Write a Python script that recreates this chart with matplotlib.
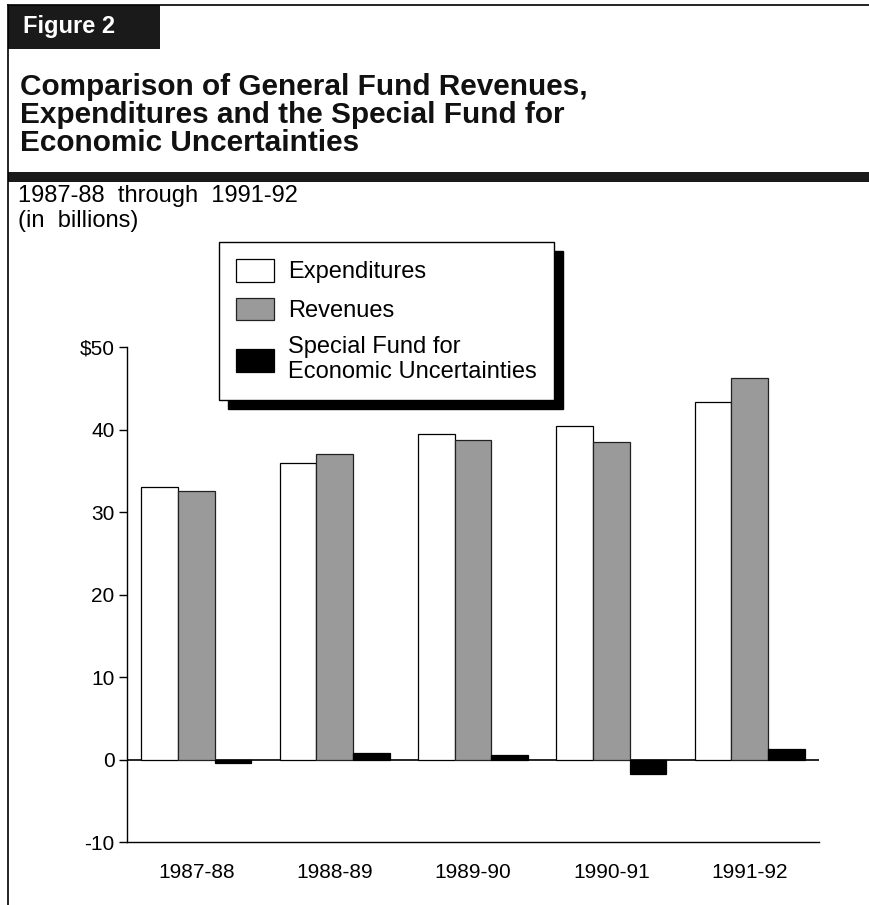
import matplotlib
matplotlib.use("Agg")
import matplotlib.pyplot as plt
from matplotlib.patches import Rectangle
from matplotlib.lines import Line2D
import numpy as np

plt.rcParams["font.family"] = ["Liberation Sans", "DejaVu Sans"]

years = ["1987-88", "1988-89", "1989-90", "1990-91", "1991-92"]
expenditures = [33.0, 35.9, 39.5, 40.4, 43.3]
revenues = [32.5, 37.0, 38.7, 38.5, 46.2]
special_fund = [-0.4, 0.8, 0.5, -1.7, 1.3]
yticks = [-10, 0, 10, 20, 30, 40, 50]
ytick_labels = ["-10", "0", "10", "20", "30", "40", "$50"]

W, H = 870, 905
fig = plt.figure(figsize=(W / 100, H / 100), dpi=100)


def fx(px):
    return px / W


def fy(py):
    return 1 - py / H


# page frame: left rule, top rule, "Figure 2" tab, heavy rule under the title
fig.add_artist(Line2D([fx(8), fx(8)], [fy(5), 0], color="black", lw=1.2,
                      transform=fig.transFigure))
fig.add_artist(Line2D([fx(8), 1], [fy(5), fy(5)], color="black", lw=1.2,
                      transform=fig.transFigure))
fig.add_artist(Rectangle((fx(8), fy(49)), fx(160) - fx(8), fy(5) - fy(49),
                         facecolor="#1a1a1a", edgecolor="none",
                         transform=fig.transFigure))
fig.text(fx(23), fy(27), "Figure 2", color="white", fontsize=17,
         fontweight="bold", va="center", ha="left")
fig.add_artist(Rectangle((fx(8), fy(182)), 1 - fx(8), fy(172) - fy(182),
                         facecolor="#1a1a1a", edgecolor="none",
                         transform=fig.transFigure))

title_lines = ["Comparison of General Fund Revenues,",
               "Expenditures and the Special Fund for",
               "Economic Uncertainties"]
for i, line in enumerate(title_lines):
    fig.text(fx(20), fy(87 + 28 * i), line, fontsize=21.4, fontweight="bold",
             va="center", ha="left", color="#111111")

fig.text(fx(18), fy(196), "1987-88  through  1991-92", fontsize=17,
         va="center", ha="left")
fig.text(fx(18), fy(221), "(in  billions)", fontsize=17, va="center", ha="left")

# chart
ax = fig.add_axes([fx(127), fy(842), fx(819) - fx(127), fy(347) - fy(842)])
x = np.arange(len(years))
w = 0.265
b1 = ax.bar(x - w, expenditures, w, color="white", edgecolor="black", lw=0.9,
            label="Expenditures", zorder=3)
b2 = ax.bar(x, revenues, w, color="#9a9a9a", edgecolor="#222222", lw=0.9,
            label="Revenues", zorder=3)
b3 = ax.bar(x + w, special_fund, w, color="black", edgecolor="black", lw=0.9,
            label="Special Fund for\nEconomic Uncertainties", zorder=3)
ax.axhline(0, color="black", lw=1.2, zorder=2)

ax.set_xlim(-0.5, 4.5)
ax.set_ylim(-10, 50)
ax.set_yticks(yticks)
ax.set_yticklabels(ytick_labels)
ax.set_xticks(x)
ax.set_xticklabels(years)
ax.tick_params(axis="y", length=6, width=1.0, pad=3, labelsize=15)
ax.tick_params(axis="x", length=0, pad=15, labelsize=15)
for s in ["top", "right"]:
    ax.spines[s].set_visible(False)
for s in ["left", "bottom"]:
    ax.spines[s].set_linewidth(1.0)

leg = fig.legend(handles=[b1, b2, b3], loc="upper left",
                 bbox_to_anchor=(fx(219), fy(242)), borderaxespad=0,
                 fontsize=17, frameon=True, fancybox=False,
                 handlelength=1.6, handleheight=1.1, handletextpad=0.6,
                 labelspacing=0.6, borderpad=0.72,
                 shadow={"ox": 6.5, "oy": -6.5, "facecolor": "black",
                         "edgecolor": "black", "alpha": 1})
leg.get_frame().set_edgecolor("black")
leg.get_frame().set_linewidth(1.0)
leg.get_frame().set_alpha(1)

fig.savefig("out.png", dpi=100)
